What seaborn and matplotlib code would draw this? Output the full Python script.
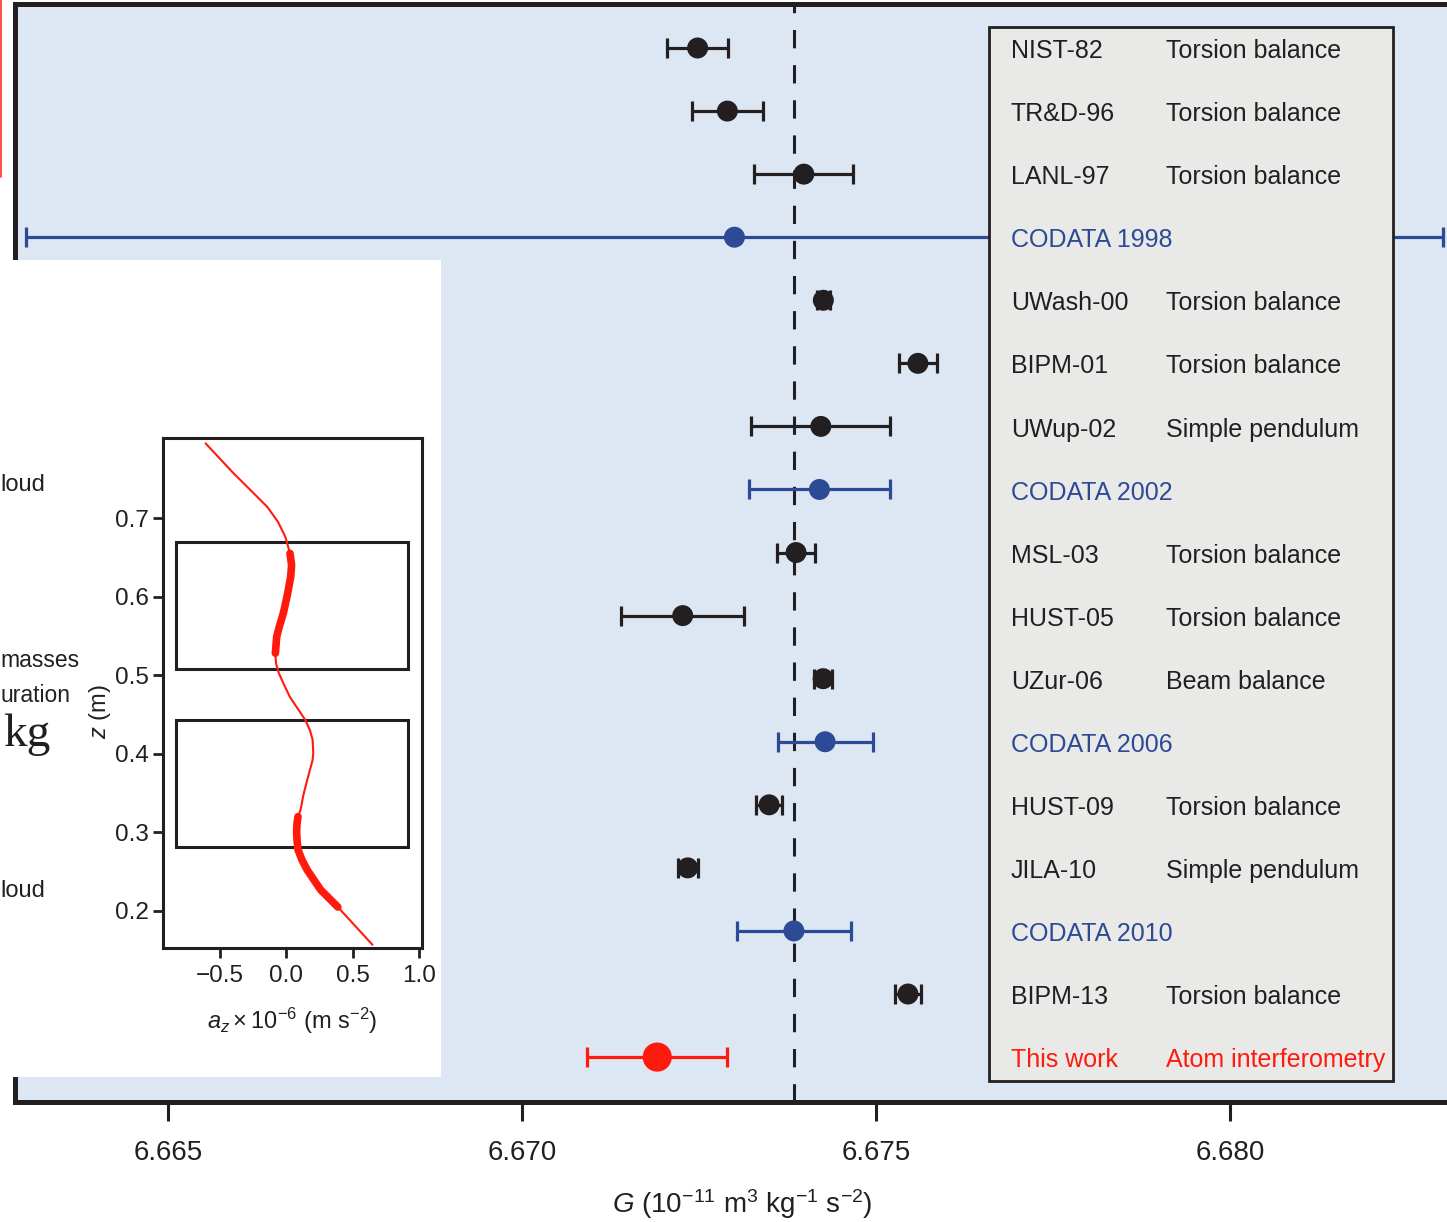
import numpy as np
import pandas as pd
import matplotlib
matplotlib.use("Agg")
import matplotlib.pyplot as plt
import seaborn as sns
from matplotlib.patches import Rectangle
from matplotlib.lines import Line2D

# ---------------- data ----------------
experiments = ["NIST-82", "TR&D-96", "LANL-97", "CODATA 1998", "UWash-00", "BIPM-01",
               "UWup-02", "CODATA 2002", "MSL-03", "HUST-05", "UZur-06", "CODATA 2006",
               "HUST-09", "JILA-10", "CODATA 2010", "BIPM-13", "This work"]
methods = ["Torsion balance", "Torsion balance", "Torsion balance", "", "Torsion balance",
           "Torsion balance", "Simple pendulum", "", "Torsion balance", "Torsion balance",
           "Beam balance", "", "Torsion balance", "Simple pendulum", "", "Torsion balance",
           "Atom interferometry"]
g_values = [6.67248, 6.67290, 6.67398, 6.67300, 6.674255, 6.67559, 6.67422, 6.67420,
            6.67387, 6.67227, 6.674252, 6.67428, 6.67349, 6.67234, 6.67384, 6.67545, 6.67191]
g_errors = [0.00043, 0.00050, 0.00070, 0.01000, 0.000092, 0.00027, 0.00098, 0.00100,
            0.00027, 0.00087, 0.000124, 0.00067, 0.00018, 0.00014, 0.00080, 0.00018, 0.00099]
groups = ["exp", "exp", "exp", "codata", "exp", "exp", "exp", "codata", "exp", "exp",
          "exp", "codata", "exp", "exp", "codata", "exp", "this"]
codata_2010_value = 6.67384
x_ticks = [6.665, 6.670, 6.675, 6.680]

# inset: vertical gravity gradient a_z vs height z
inset_az = [-0.605, -0.50, -0.395, -0.27, -0.14, -0.06, -0.005, 0.03, 0.042, 0.035, 0.01,
            -0.02, -0.05, -0.07, -0.08, -0.075, -0.055, -0.015, 0.03, 0.09, 0.145, 0.18,
            0.20, 0.205, 0.20, 0.16, 0.13, 0.11, 0.09, 0.082, 0.08, 0.083, 0.09, 0.12,
            0.16, 0.26, 0.39, 0.52, 0.65]
inset_z = [0.795, 0.776, 0.757, 0.736, 0.714, 0.695, 0.676, 0.655, 0.640, 0.625, 0.602,
           0.579, 0.562, 0.549, 0.528, 0.515, 0.503, 0.488, 0.472, 0.457, 0.443, 0.430,
           0.418, 0.401, 0.392, 0.367, 0.347, 0.329, 0.320, 0.310, 0.300, 0.290, 0.278,
           0.265, 0.252, 0.227, 0.205, 0.181, 0.157]
thick_ranges = [(0.528, 0.655), (0.205, 0.320)]
mass_box_a = (-0.83, 0.918)
mass_boxes_z = [(0.508, 0.669), (0.281, 0.443)]
inset_xticks = [-0.5, 0.0, 0.5, 1.0]
inset_yticks = [0.2, 0.3, 0.4, 0.5, 0.6, 0.7]

# ---------------- style ----------------
sns.set_theme(style="ticks")
plt.rcParams["font.family"] = ["Liberation Sans", "DejaVu Sans"]
plt.rcParams["mathtext.fontset"] = "custom"
plt.rcParams["mathtext.rm"] = "Liberation Sans"
plt.rcParams["mathtext.it"] = "Liberation Sans:italic"
plt.rcParams["mathtext.bf"] = "Liberation Sans:bold"

BLACK = "#231f20"
BLUE = "#2d4a96"
RED = "#ff1a0d"
BG = "#dde7f3"
BOX = "#e9e9e7"
palette = {"exp": BLACK, "codata": BLUE, "this": RED}
sizes = {"exp": 228, "codata": 228, "this": 440}

df = pd.DataFrame({"name": experiments, "method": methods, "G": g_values,
                   "err": g_errors, "group": groups})
df["row"] = np.arange(len(df))

fig = plt.figure(figsize=(14.47, 12.22), dpi=100)
ax = fig.add_axes([0.0107, 0.0978, 0.9893, 0.89853])
ax.set_facecolor(BG)

# dashed reference line
ax.axvline(codata_2010_value, color=BLACK, lw=2.2, linestyle=(0, (6, 5.5)), zorder=2)

# error bars
for grp, sub in df.groupby("group"):
    ax.errorbar(sub["G"], sub["row"], xerr=sub["err"], fmt="none", ecolor=palette[grp],
                elinewidth=2.3, capsize=7.2, capthick=2.3, zorder=3)

sns.scatterplot(data=df, x="G", y="row", hue="group", palette=palette, size="group",
                sizes=sizes, linewidth=0, legend=False, ax=ax, zorder=4)

ax.set_xlim(6.66285, 6.68306)
ax.set_ylim(16.72, -0.69)
ax.set_yticks([])
ax.set_ylabel("")
ax.set_xticks(x_ticks)
ax.set_xticklabels([f"{v:.3f}" for v in x_ticks])
ax.tick_params(axis="x", direction="out", length=13.5, width=2.2, color=BLACK,
               labelsize=20, pad=13.3, labelcolor=BLACK)
ax.set_xlabel(r"$G$ (10$^{-11}$ m$^{3}$ kg$^{-1}$ s$^{-2}$)", fontsize=20,
              color=BLACK, labelpad=17)
ax.xaxis.set_label_coords(0.5075, -0.0775)
for side in ["left", "bottom", "top"]:
    ax.spines[side].set_linewidth(3.6)
    ax.spines[side].set_color(BLACK)
ax.spines["right"].set_visible(False)

# legend table
ax.add_patch(Rectangle((0.6801, 0.0196), 0.2822, 0.9599, transform=ax.transAxes,
                       facecolor=BOX, edgecolor=BLACK, lw=2.0, zorder=5))
tcolors = {"exp": BLACK, "codata": BLUE, "this": RED}
trans = ax.get_yaxis_transform()
for _, r in df.iterrows():
    c = tcolors[r["group"]]
    ax.text(0.6954, r["row"] + 0.05, r["name"], transform=trans, fontsize=18, color=c,
            va="center", ha="left", zorder=6)
    if r["method"]:
        ax.text(0.8037, r["row"] + 0.05, r["method"], transform=trans, fontsize=18,
                color=c, va="center", ha="left", zorder=6)

# ---------------- inset panel ----------------
wax = fig.add_axes([0.0, 0.1187, 441 / 1447, 0.6686])
wax.set_facecolor("white")
wax.set_xticks([])
wax.set_yticks([])
for s in wax.spines.values():
    s.set_visible(False)

axin = fig.add_axes([163 / 1447, 1 - 948 / 1222, 259 / 1447, 510 / 1222])
axin.set_facecolor("white")
sns.lineplot(x=inset_az, y=inset_z, sort=False, estimator=None, color=RED, lw=1.5,
             ax=axin, zorder=3)
iaz = np.array(inset_az)
iz = np.array(inset_z)
for lo, hi in thick_ranges:
    m = (iz >= lo) & (iz <= hi)
    sns.lineplot(x=iaz[m], y=iz[m], sort=False, estimator=None, color=RED, lw=5.5,
                 ax=axin, zorder=3)
for zlo, zhi in mass_boxes_z:
    axin.add_patch(Rectangle((mass_box_a[0], zlo), mass_box_a[1] - mass_box_a[0],
                             zhi - zlo, facecolor="none", edgecolor=BLACK, lw=2.2,
                             zorder=2))
axin.set_xlim(-0.925, 1.0226)
axin.set_ylim(0.1529, 0.8018)
axin.set_xticks(inset_xticks)
axin.set_xticklabels([f"{v:.1f}".replace("-", "\u2212") for v in inset_xticks])
axin.set_yticks(inset_yticks)
axin.set_yticklabels([f"{v:.1f}" for v in inset_yticks])
axin.tick_params(direction="out", length=7, width=2.0, color=BLACK, labelsize=17.5,
                 pad=3, labelcolor=BLACK)
axin.tick_params(axis="x", pad=5.5)
for s in axin.spines.values():
    s.set_linewidth(2.2)
    s.set_color(BLACK)
axin.set_xlabel(r"$a_z \times 10^{-6}$ (m s$^{-2}$)", fontsize=17, color=BLACK,
                labelpad=13)
axin.set_ylabel(r"$z$ (m)", fontsize=17, color=BLACK)
axin.yaxis.set_label_coords(-0.193, 0.463)

# cropped fragments of the neighbouring panel
H = 1222.0
fig.text(0.0, 1 - 491 / H, "loud", fontsize=17, color=BLACK, va="baseline", ha="left")
fig.text(0.0, 1 - 667 / H, "masses", fontsize=16.5, color=BLACK, va="baseline", ha="left")
fig.text(0.0, 1 - 702 / H, "uration", fontsize=16.5, color=BLACK, va="baseline", ha="left")
fig.text(3 / 1447, 1 - 746 / H, "kg", fontsize=34, color=BLACK, va="baseline",
         ha="left", family=["Liberation Serif", "DejaVu Serif"])
fig.text(0.0, 1 - 897 / H, "loud", fontsize=17, color=BLACK, va="baseline", ha="left")
fig.add_artist(Line2D([0.0006, 0.0006], [1.0, 1 - 177 / H], transform=fig.transFigure,
                      color="#ff4040", lw=1.3))

fig.savefig("out.png", dpi=100)
